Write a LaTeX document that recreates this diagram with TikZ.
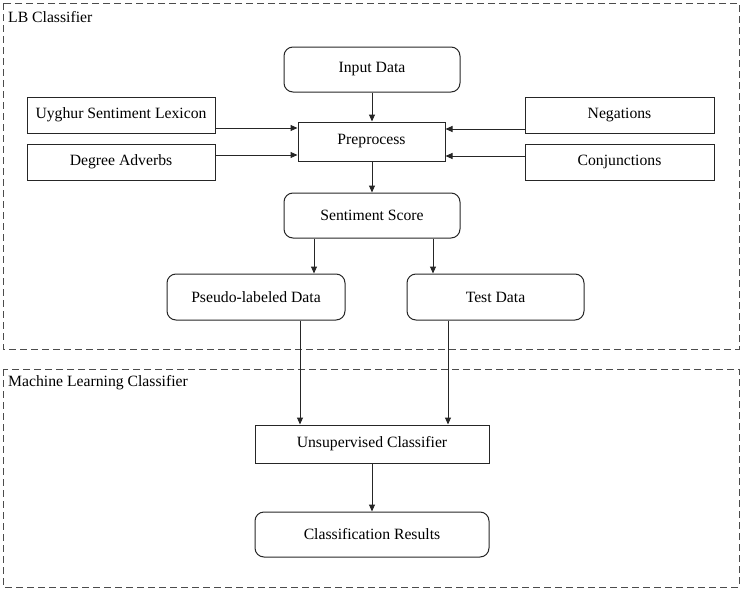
\documentclass[tikz,border=0pt]{standalone}
\usepackage{fontspec}
\setmainfont{Liberation Serif}
\usetikzlibrary{arrows.meta}
\begin{document}
\begin{tikzpicture}[x=1pt,y=-1pt,
  frame/.style={draw=black!70,line width=0.9pt,dash pattern=on 7pt off 4pt},
  rbox/.style={draw=black!85,line width=1pt,rounded corners=9pt,font=\fontsize{15.7}{18}\selectfont},
  sbox/.style={draw=black!85,line width=1pt,font=\fontsize{15.7}{18}\selectfont},
  arr/.style={draw=black!85,line width=1pt,-{Triangle[length=7pt,width=6pt]}},
  lbl/.style={font=\fontsize{15.7}{18}\selectfont,anchor=west,inner sep=0pt}]
\useasboundingbox (0,0) rectangle (742,589);
\draw[frame] (3,3) rectangle (739,349);
\draw[frame] (3,369) rectangle (739,587);
\node[lbl] (t1) at (8,17) {LB Classifier};
\node[lbl] (t2) at (8,383) {Machine Learning Classifier};

\node[rbox,minimum width=176pt,minimum height=45pt] (input) at (372,69.5) {Input Data};
\node[sbox,minimum width=147pt,minimum height=39pt] (pre) at (371.5,141.5) {Preprocess};
\node[sbox,minimum width=188pt,minimum height=36pt] (uyg) at (121,115) {Uyghur Sentiment Lexicon};
\node[sbox,minimum width=188pt,minimum height=36pt] (deg) at (121,162) {Degree Adverbs};
\node[sbox,minimum width=189pt,minimum height=36pt] (neg) at (619.5,115) {Negations};
\node[sbox,minimum width=189pt,minimum height=36pt] (con) at (619.5,162) {Conjunctions};
\node[rbox,minimum width=176pt,minimum height=45pt] (sent) at (372,215.5) {Sentiment Score};
\node[rbox,minimum width=178pt,minimum height=46pt] (pseudo) at (256,297) {Pseudo-labeled Data};
\node[rbox,minimum width=177pt,minimum height=46pt] (test) at (495.5,297) {Test Data};
\node[sbox,minimum width=234pt,minimum height=38pt] (unsup) at (372,444) {Unsupervised Classifier};
\node[rbox,minimum width=234pt,minimum height=45pt] (res) at (372,534.5) {Classification Results};

\draw[arr] (input.south) -- (pre.north -| input.south);
\draw[arr] (uyg.east |- 0,128) -- (pre.west |- 0,128);
\draw[arr] (deg.east |- 0,155) -- (pre.west |- 0,155);
\draw[arr] (neg.west |- 0,129) -- (pre.east |- 0,129);
\draw[arr] (con.west |- 0,156) -- (pre.east |- 0,156);
\draw[arr] (pre.south -| input.south) -- (sent.north -| input.south);
\draw[arr] (sent.south -| 314,0) -- (pseudo.north -| 314,0);
\draw[arr] (sent.south -| 433,0) -- (test.north -| 433,0);
\draw[arr] (pseudo.south -| 300,0) -- (unsup.north -| 300,0);
\draw[arr] (test.south -| 448,0) -- (unsup.north -| 448,0);
\draw[arr] (unsup.south) -- (res.north);
\end{tikzpicture}
\end{document}
